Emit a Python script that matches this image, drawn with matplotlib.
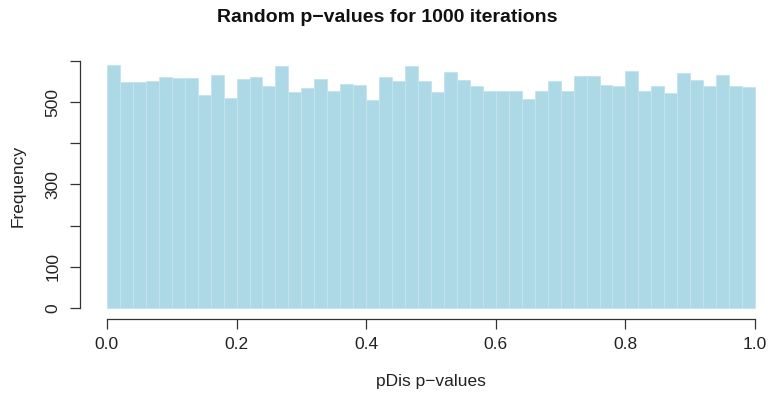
import matplotlib.pyplot as plt
import numpy as np

# counts per bin, 50 bins of width 0.02 over [0, 1]
counts = [591, 549, 548, 550, 561, 558, 558, 516, 565, 509,
          557, 561, 539, 587, 524, 535, 557, 527, 543, 541,
          506, 561, 551, 587, 552, 524, 574, 553, 540, 527,
          527, 527, 508, 527, 552, 527, 562, 564, 542, 539,
          576, 527, 540, 522, 571, 554, 540, 566, 540, 536]
edges = np.linspace(0, 1, len(counts) + 1)
xticks = [0.0, 0.2, 0.4, 0.6, 0.8, 1.0]
yticks = [0, 100, 200, 300, 400, 500, 600]
ytick_labels = ['0', '100', '', '300', '', '500', '']

plt.rcParams['font.family'] = ['Liberation Sans', 'DejaVu Sans']

fig = plt.figure(figsize=(7.75, 4.01), dpi=100)
ax = fig.add_axes([81 / 775, (401 - 317.7) / 401, 700 / 775, (317.7 - 54.8) / 401])

ax.bar(edges[:-1], counts, width=0.02, align='edge',
       color='#add8e6', edgecolor='#c4e3ee', linewidth=0.6)

ax.set_xlim(-0.04, 1.04)
ax.set_ylim(-23.6, 614.6)

for s in ['top', 'right']:
    ax.spines[s].set_visible(False)
ax.spines['left'].set_bounds(0, 600)
ax.spines['bottom'].set_bounds(0, 1)
ax.spines['left'].set_position(('outward', 1))
ax.spines['bottom'].set_position(('outward', 1))
for s in ['left', 'bottom']:
    ax.spines[s].set_color('#333333')
    ax.spines[s].set_linewidth(0.9)
ax.spines['left'].set_clip_on(False)

ax.set_xticks(xticks)
ax.set_xticklabels([f'{t:.1f}' for t in xticks])
ax.set_yticks(yticks)
ax.set_yticklabels(ytick_labels, rotation=90, va='center')
ax.tick_params(axis='both', length=7, width=0.9, color='#333333',
               labelsize=12.5, labelcolor='#222222')
ax.tick_params(axis='x', pad=6)
ax.tick_params(axis='y', pad=7)

ax.set_xlabel('pDis p\u2212values', fontsize=12.5, color='#222222', labelpad=16)
ax.set_ylabel('Frequency', fontsize=12.5, color='#222222', labelpad=14)
fig.text(0.5, 1 - 18 / 401, 'Random p\u2212values for 1000 iterations',
         ha='center', va='center', fontsize=14, fontweight='bold', color='#111111')

fig.savefig('out.png', dpi=100)
